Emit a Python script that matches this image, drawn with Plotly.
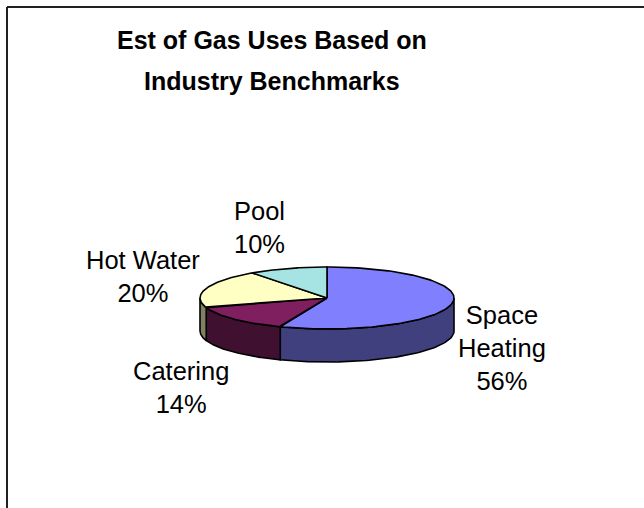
import numpy as np
import plotly.graph_objects as go

# ---- data ----
categories = ["Space Heating", "Catering", "Hot Water", "Pool"]
values = [56, 14, 20, 10]
label_names = ["Space<br>Heating", "Catering", "Hot Water", "Pool"]
title_lines = ["Est of Gas Uses Based on", "Industry Benchmarks"]

# ---- style ----
top_colors = ["#8080FF", "#7F1F5F", "#FFFFC4", "#A6E3E3"]
side_colors = ["#40407F", "#401030", "#808062", "#538080"]
label_pos = [(502, 348), (181, 387), (143, 276), (259, 227)]

W, H = 644, 508
CX, CY, A, B, DEPTH = 327, 298, 127, 31, 33
FONT = "Arial, Liberation Sans, sans-serif"


def ell(theta_deg, dy=0.0):
    t = np.radians(theta_deg)
    return CX + A * np.sin(t), CY - B * np.cos(t) + dy


total = float(sum(values))
bounds = np.concatenate([[0.0], np.cumsum(values) / total * 360.0])

fig = go.Figure()

# side walls (front half of the cylinder: angles 90..270 clockwise from top)
for i, cat in enumerate(categories):
    s, e = bounds[i], bounds[i + 1]
    lo, hi = max(s, 90.0), min(e, 270.0)
    if lo >= hi:
        continue
    th = np.linspace(lo, hi, 80)
    xt, yt = ell(th)
    xb, yb = ell(th[::-1], DEPTH)
    xs = np.concatenate([xt, xb, xt[:1]])
    ys = np.concatenate([yt, yb, yt[:1]])
    fig.add_trace(go.Scatter(x=xs, y=ys, mode="lines", fill="toself",
                             fillcolor=side_colors[i],
                             line=dict(color="black", width=1.6),
                             hoverinfo="skip", showlegend=False))

# top faces
for i, cat in enumerate(categories):
    s, e = bounds[i], bounds[i + 1]
    th = np.linspace(s, e, 120)
    xa, ya = ell(th)
    xs = np.concatenate([[CX], xa, [CX]])
    ys = np.concatenate([[CY], ya, [CY]])
    fig.add_trace(go.Scatter(x=xs, y=ys, mode="lines", fill="toself",
                             fillcolor=top_colors[i],
                             line=dict(color="black", width=1.6),
                             name=cat, hoverinfo="name", showlegend=False))

annotations = []
for i, cat in enumerate(categories):
    pct = round(values[i] / total * 100)
    x, y = label_pos[i]
    annotations.append(dict(x=x, y=y, xref="x", yref="y",
                            text=f"{label_names[i]}<br>{pct}%",
                            showarrow=False, xanchor="center", yanchor="middle",
                            align="center",
                            font=dict(family=FONT, size=25.5, color="black")))

for j, (line, yc) in enumerate(zip(title_lines, [40, 81])):
    annotations.append(dict(x=272, y=yc, xref="x", yref="y", text=f"<b>{line}</b>",
                            showarrow=False, xanchor="center", yanchor="middle",
                            font=dict(family=FONT, size=25, color="black")))

shapes = [
    dict(type="line", xref="x", yref="y", x0=7, y0=7, x1=W, y1=7,
         line=dict(color="#202020", width=2)),
    dict(type="line", xref="x", yref="y", x0=7, y0=7, x1=7, y1=H,
         line=dict(color="#202020", width=2)),
]

fig.update_layout(
    width=W, height=H,
    margin=dict(l=0, r=0, t=0, b=0),
    paper_bgcolor="white", plot_bgcolor="white",
    xaxis=dict(range=[0, W], visible=False, fixedrange=True),
    yaxis=dict(range=[H, 0], visible=False, fixedrange=True),
    annotations=annotations, shapes=shapes,
    showlegend=False,
)

fig.write_html("out.html")
